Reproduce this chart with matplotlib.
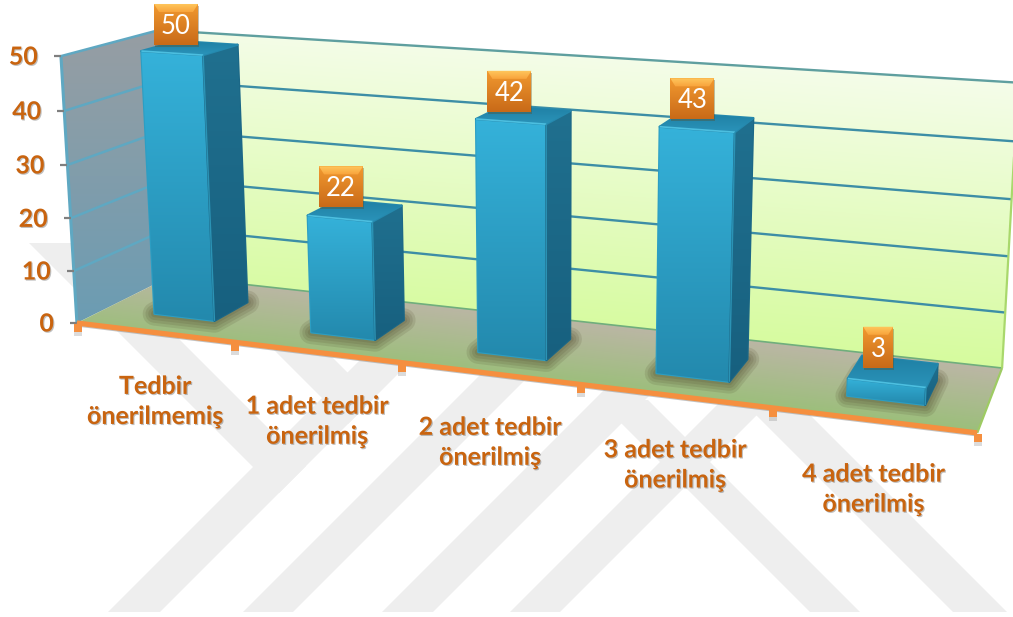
import numpy as np
import matplotlib
matplotlib.use('Agg')
import matplotlib.pyplot as plt
import matplotlib.patheffects as pe
from matplotlib.colors import to_rgb
from matplotlib.patches import Polygon, Rectangle

# 1) Data
categories = ['Tedbir\nönerilmemiş', '1 adet tedbir\nönerilmiş', '2 adet tedbir\nönerilmiş',
              '3 adet tedbir\nönerilmiş', '4 adet tedbir\nönerilmiş']
values = [50, 22, 42, 43, 3]
y_ticks = [0, 10, 20, 30, 40, 50]

plt.rcParams['font.family'] = ['Lato', 'DejaVu Sans']
ORANGE_TEXT = '#c9640f'
BAR_W = 0.39
BAR_V0, BAR_V1 = 0.30, 0.68

# 2) Camera fitted on the box of the chart: (category, depth, value) -> picture pixels
world = [(0, 0, 0), (5, 0, 0), (0, 1, 0), (5, 1, 0), (0, 0, 50), (0, 1, 50), (5, 1, 50),
         (1, 0, 0), (2, 0, 0), (3, 0, 0), (4, 0, 0)]
pixel = [(77, 323), (978, 433), (170, 277), (1002, 368), (60, 57), (160, 29), (1018, 83),
         (235, 342), (402, 362), (578, 384), (772, 408)]
rows = []
for (u, v, h), (x, y) in zip(world, pixel):
    rows.append([u, v, h, 1, 0, 0, 0, 0, -x * u, -x * v, -x * h, -x])
    rows.append([0, 0, 0, 0, u, v, h, 1, -y * u, -y * v, -y * h, -y])
cam = np.linalg.svd(np.array(rows, dtype=float))[2][-1].reshape(3, 4)


def proj(u, v, h=0):
    p = cam @ np.array([u, v, h, 1.0])
    return p[0] / p[2], p[1] / p[2]


# 3) Helpers
def grad_fill(ax, verts, c0, c1, direction=(0, 1), zorder=1, round_px=0):
    verts = np.array(verts)
    if round_px:
        # same colour stroke under the gradient rounds the corners a bit
        mid = (np.array(to_rgb(c0)) + np.array(to_rgb(c1))) / 2
        ax.add_patch(Polygon(verts, closed=True, fc=mid, ec=mid, lw=round_px,
                             joinstyle='round', zorder=zorder - 0.01))
    x0, y0 = np.floor(verts.min(axis=0)) - 1
    x1, y1 = np.ceil(verts.max(axis=0)) + 1
    X, Y = np.meshgrid(np.arange(x0, x1 + 1), np.arange(y0, y1 + 1))
    d = verts[:, 0] * direction[0] + verts[:, 1] * direction[1]
    t = (X * direction[0] + Y * direction[1] - d.min()) / (d.max() - d.min())
    t = np.clip(t, 0, 1)[..., None]
    img = np.array(to_rgb(c0)) * (1 - t) + np.array(to_rgb(c1)) * t
    im = ax.imshow(img, extent=(x0 - .5, x1 + .5, y1 + .5, y0 - .5), zorder=zorder, aspect='auto')
    clip = Polygon(verts, closed=True, transform=ax.transData, fc='none', ec='none')
    ax.add_patch(clip)
    im.set_clip_path(clip)


def line(ax, a, b, color, lw, zorder=2, **kw):
    ax.plot([a[0], b[0]], [a[1], b[1]], color=color, lw=lw, zorder=zorder,
            solid_capstyle='butt', **kw)


fig = plt.figure(figsize=(10.13, 6.17), dpi=100)
ax = fig.add_axes([0, 0, 1, 1])
ax.axis('off')

# 4) Watermark bands behind the chart
WM = '#eeeeee'
BOTTOM = 612


def wm_up(c0, c1, top):
    # band going up to the right, c = x + y
    return [(c0 - BOTTOM, BOTTOM), (c1 - BOTTOM, BOTTOM), (c1 - top, top), (c0 - top, top)]


def wm_down(d0, d1, y_start, y_end=None, s_end=None):
    # band going down to the right, d = x - y
    pts = [(d0 + y_start, y_start), (d1 + y_start, y_start)]
    if y_end is not None:
        pts += [(d1 + y_end, y_end), (d0 + y_end, y_end)]
    else:
        pts += [((s_end + d1) / 2, (s_end - d1) / 2), ((s_end + d0) / 2, (s_end - d0) / 2)]
    return pts


bands = [wm_up(720, 772, 340), wm_up(855, 905, 330), wm_up(994, 1045, 330), wm_up(1122, 1172, 330),
         wm_down(-214, -160, 243, s_end=772), wm_down(-76, -25, 300, s_end=772),
         wm_down(198, 248, 400, y_end=BOTTOM), wm_down(341, 395, 380, y_end=BOTTOM)]
for b in bands:
    ax.add_patch(Polygon(b, closed=True, fc=WM, ec='none', zorder=0))

# 5) Walls, floor and grid
grad_fill(ax, [proj(0, 1, 50), proj(5, 1, 50), proj(5, 1, 0), proj(0, 1, 0)],
          '#f5fdea', '#d6fb9e', direction=(-0.075, 1), zorder=1)
grad_fill(ax, [proj(0, 0, 50), proj(0, 1, 50), proj(0, 1, 0), proj(0, 0, 0)],
          '#979ea3', '#6b9cb3', direction=(0, 1), zorder=1.2)
grad_fill(ax, [proj(0, 0), proj(5, 0), proj(5, 1), proj(0, 1)],
          '#bcb6a6', '#9bbf7a', direction=(-0.115, 1), zorder=1.4)

for h in y_ticks[1:]:
    line(ax, proj(0, 1, h), proj(5, 1, h), '#3d8ea6' if h < 50 else '#5f9f9f', 1.7, zorder=1.6)
    line(ax, proj(0, 0, h), proj(0, 1, h), '#5fa8c2', 1.8, zorder=1.6)
line(ax, proj(0, 1, 0), proj(5, 1, 0), '#6fae7c', 1.2, zorder=1.6)
line(ax, proj(0, 0, 0), proj(0, 0, 50), '#5fa8c2', 2.2, zorder=1.6)
line(ax, proj(5, 1, 0), proj(5, 1, 50), '#a9d86c', 1.6, zorder=1.6)
line(ax, proj(5, 0, 0), proj(5, 1, 0), '#9ecb63', 1.6, zorder=1.6)

# value axis
for h in y_ticks:
    x, y = proj(0, 0, h)
    line(ax, (x - 7, y), (x, y), '#7f7f7f', 1.6, zorder=1.7)
    ax.text(x - 23, y + 1, str(h), ha='right', va='center', fontsize=18, fontweight='bold',
            color=ORANGE_TEXT, zorder=6,
            path_effects=[pe.withSimplePatchShadow(offset=(0.8, -0.8), alpha=0.25, shadow_rgbFace='k')])

# 6) Bars
for i, val in enumerate(values):
    u0, u1 = i + 0.512 - BAR_W / 2, i + 0.512 + BAR_W / 2
    fb0, fb1, bb1, bb0 = proj(u0, BAR_V0), proj(u1, BAR_V0), proj(u1, BAR_V1), proj(u0, BAR_V1)
    ft0, ft1, bt1, bt0 = proj(u0, BAR_V0, val), proj(u1, BAR_V0, val), proj(u1, BAR_V1, val), proj(u0, BAR_V1, val)
    # soft shadow on the floor
    for lw in (17, 13, 9, 5):
        ax.add_patch(Polygon([fb0, fb1, bb1, bb0], closed=True, fc='#3d3318', ec='#3d3318',
                             lw=lw, alpha=0.12, joinstyle='round', zorder=2))
    grad_fill(ax, [ft0, ft1, fb1, fb0], '#35b2da', '#2389ad', zorder=3, round_px=1.6)
    grad_fill(ax, [ft1, bt1, bb1, fb1], '#20708f', '#17607f', zorder=3.02, round_px=1.6)
    grad_fill(ax, [bt0, bt1, ft1, ft0], '#1f7fa3', '#2a93b9', zorder=3.04, round_px=1.6)
    line(ax, ft0, ft1, '#4cbfe0', 1.2, zorder=3.1)
    line(ax, ft1, fb1, '#2b93b5', 1.0, zorder=3.1)

# 7) Front edge and its ticks
x0, y0 = proj(0, 0)
x1, y1 = proj(5, 0)
line(ax, (x0, y0 + 2.5), (x1, y1 + 2.5), '#9a9a9a', 1.6, zorder=3.8, alpha=0.6)
line(ax, (x0, y0), (x1, y1), '#f58f3f', 3.8, zorder=4)
for i in range(len(categories) + 1):
    x, y = proj(i, 0)
    ax.add_patch(Rectangle((x - 3, y + 8), 8, 5, fc='#8a8a8a', ec='none', alpha=0.3, zorder=3.9))
    ax.add_patch(Rectangle((x - 3, y + 1), 8, 8, fc='#f58f3f', ec='none', zorder=4))

# 8) Category labels
for i, label in enumerate(categories):
    x, y = proj(i + 0.5, 0)
    ax.text(x + 1, y + 69, label, ha='center', va='center', fontsize=18, fontweight='bold',
            color=ORANGE_TEXT, linespacing=1.37, zorder=6,
            path_effects=[pe.withSimplePatchShadow(offset=(0.8, -0.8), alpha=0.25, shadow_rgbFace='k')])

# 9) Value labels in orange boxes
for i, val in enumerate(values):
    cx, cy = proj(i + 0.5, 0.5, val)
    cx -= 13
    cy -= 23
    half = 22 if val >= 10 else 15
    bx0, bx1, by0, by1 = cx - half, cx + half, cy - 20.5, cy + 20.5
    ax.add_patch(Rectangle((bx0 + 1, by0 + 2), 2 * half, 41, fc='#5a4a20', ec='none', alpha=0.35, zorder=6.5))
    grad_fill(ax, [(bx0, by0), (bx1, by0), (bx1, by1), (bx0, by1)], '#f29a30', '#c96a18', zorder=7)
    grad_fill(ax, [(bx0, by0), (bx1, by0), (bx1 - 5, by0 + 8), (bx0 + 5, by0 + 8)], '#ffc85e', '#f9a63e', zorder=7.1)
    ax.text(cx, cy + 2, str(val), ha='center', va='center', fontsize=18.5, color='white', zorder=8)

ax.set_xlim(0, 1013)
ax.set_ylim(617, 0)
fig.savefig('out.png', dpi=100, facecolor='white')
